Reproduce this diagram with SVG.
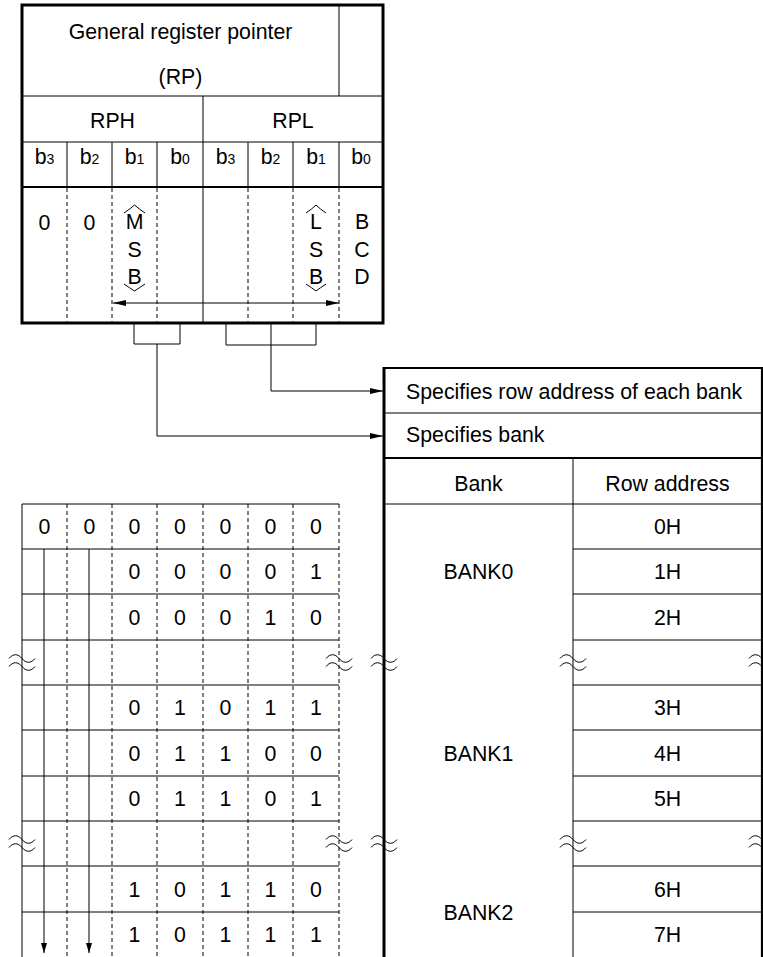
<svg xmlns="http://www.w3.org/2000/svg" width="763" height="957" viewBox="0 0 763 957">
<style>
text{font-family:"Liberation Sans",Arial,sans-serif;font-size:21.3px;fill:#000}
.m{text-anchor:middle}
.s{font-size:14px}
.thin{stroke:#000;stroke-width:1;fill:none}
.thick{stroke:#000;stroke-width:3;fill:none}
.mid{stroke:#000;stroke-width:2.2;fill:none}
.dash{stroke:#000;stroke-width:1;stroke-dasharray:4 3;fill:none}
.wave{stroke:#000;stroke-width:1;fill:none}
</style>
<defs>
<marker id="ah" viewBox="0 0 13 6" refX="13" refY="3" markerWidth="13" markerHeight="6" markerUnits="userSpaceOnUse" orient="auto-start-reverse">
<path d="M0,0 L13,3 L0,6 Z" fill="#000"/>
</marker>
<marker id="ahd" viewBox="0 0 6 10" refX="3" refY="10" markerWidth="6" markerHeight="10" markerUnits="userSpaceOnUse" orient="0">
<path d="M0,0 L6,0 L3,10 Z" fill="#000"/>
</marker>
<path id="wv" d="M-13,-4 c4,-5 9,-5 13,0 s9,5 13,0 M-13,4 c4,-5 9,-5 13,0 s9,5 13,0"/>
</defs>

<g id="register">
<rect x="22" y="5" width="361" height="318" class="thick"/>
<line x1="339" y1="5" x2="339" y2="96" class="thin"/>
<line x1="22" y1="96" x2="383" y2="96" class="thin"/>
<line x1="203" y1="96" x2="203" y2="323" class="thin"/>
<line x1="22" y1="142" x2="383" y2="142" class="thin"/>
<path d="M67,142V187M112,142V187M157,142V187M248,142V187M293,142V187M339,142V187" class="thin"/>
<line x1="22" y1="187" x2="383" y2="187" class="mid"/>
<path d="M67,188V322M112,188V322M157,188V322M248,188V322M293,188V322M339,188V322" class="dash"/>
<text x="180.5" y="39" class="m">General register pointer</text>
<text x="180.5" y="84" class="m">(RP)</text>
<text x="112.5" y="128" class="m">RPH</text>
<text x="293" y="128" class="m">RPL</text>
<text x="44.5" y="164" class="m">b<tspan class="s">3</tspan></text>
<text x="89.5" y="164" class="m">b<tspan class="s">2</tspan></text>
<text x="134.5" y="164" class="m">b<tspan class="s">1</tspan></text>
<text x="180" y="164" class="m">b<tspan class="s">0</tspan></text>
<text x="225.5" y="164" class="m">b<tspan class="s">3</tspan></text>
<text x="270.5" y="164" class="m">b<tspan class="s">2</tspan></text>
<text x="316" y="164" class="m">b<tspan class="s">1</tspan></text>
<text x="361" y="164" class="m">b<tspan class="s">0</tspan></text>
<text x="44.5" y="230" class="m">0</text>
<text x="89.5" y="230" class="m">0</text>
<text x="134.5" y="229" class="m">M</text>
<text x="134.5" y="257" class="m">S</text>
<text x="134.5" y="284" class="m">B</text>
<text x="316" y="229" class="m">L</text>
<text x="316" y="257" class="m">S</text>
<text x="316" y="284" class="m">B</text>
<text x="362" y="229" class="m">B</text>
<text x="362" y="257" class="m">C</text>
<text x="362" y="284" class="m">D</text>
<path d="M124,213 Q130,209 134.5,205 Q139,209 145,213" class="thin"/>
<path d="M124,284 Q130,288 134.5,291 Q139,288 145,284" class="thin"/>
<path d="M306,213 Q312,209 316,205 Q320,209 326,213" class="thin"/>
<path d="M306,284 Q312,288 316,291 Q320,288 326,284" class="thin"/>
<line x1="113" y1="303" x2="339" y2="303" class="thin" marker-start="url(#ah)" marker-end="url(#ah)"/>
</g>

<g id="connectors">
<path d="M134,323V344H180V323" class="thin"/>
<path d="M226,323V345H316V323" class="thin"/>
<path d="M157,344V436H383" class="thin" marker-end="url(#ah)"/>
<path d="M271,323V391H383" class="thin" marker-end="url(#ah)"/>
</g>

<g id="bank-table">
<path d="M384,368H762V957" class="mid"/>
<line x1="384" y1="367" x2="384" y2="957" class="thick"/>
<line x1="384" y1="413" x2="762" y2="413" class="thin"/>
<line x1="384" y1="458" x2="762" y2="458" class="mid"/>
<line x1="384" y1="504" x2="762" y2="504" class="thin"/>
<line x1="573" y1="458" x2="573" y2="957" class="thin"/>
<path d="M573,549H762M573,594H762M573,640H762M573,685H762M573,730H762M573,776H762M573,821H762M573,866H762M573,912H762" class="thin"/>
<text x="406" y="399">Specifies row address of each bank</text>
<text x="406" y="442">Specifies bank</text>
<text x="478.5" y="491" class="m">Bank</text>
<text x="667.5" y="491" class="m">Row address</text>
<text x="667.5" y="534" class="m">0H</text>
<text x="667.5" y="579" class="m">1H</text>
<text x="667.5" y="624.5" class="m">2H</text>
<text x="667.5" y="715" class="m">3H</text>
<text x="667.5" y="760.5" class="m">4H</text>
<text x="667.5" y="806" class="m">5H</text>
<text x="667.5" y="896.5" class="m">6H</text>
<text x="667.5" y="942" class="m">7H</text>
<text x="478.5" y="579" class="m">BANK0</text>
<text x="478.5" y="760.5" class="m">BANK1</text>
<text x="478.5" y="919.5" class="m">BANK2</text>
</g>

<g id="bit-table">
<line x1="22" y1="504" x2="22" y2="957" class="thin"/>
<path d="M22,504H339M22,549H339M22,594H339M22,640H339M22,685H339M22,730H339M22,776H339M22,821H339M22,866H339M22,912H339" class="thin"/>
<path d="M67,504V957M112,504V957M157,504V957M203,504V957M248,504V957M293,504V957M339,504V957" class="dash"/>
<line x1="44" y1="549" x2="44" y2="953" class="thin" marker-end="url(#ahd)"/>
<line x1="89" y1="549" x2="89" y2="953" class="thin" marker-end="url(#ahd)"/>
<text x="44.5" y="534" class="m">0</text>
<text x="89.5" y="534" class="m">0</text>
<text x="134.5" y="534" class="m">0</text>
<text x="180" y="534" class="m">0</text>
<text x="225.5" y="534" class="m">0</text>
<text x="270.5" y="534" class="m">0</text>
<text x="316" y="534" class="m">0</text>
<text x="134.5" y="579" class="m">0</text>
<text x="180" y="579" class="m">0</text>
<text x="225.5" y="579" class="m">0</text>
<text x="270.5" y="579" class="m">0</text>
<text x="316" y="579" class="m">1</text>
<text x="134.5" y="624.5" class="m">0</text>
<text x="180" y="624.5" class="m">0</text>
<text x="225.5" y="624.5" class="m">0</text>
<text x="270.5" y="624.5" class="m">1</text>
<text x="316" y="624.5" class="m">0</text>
<text x="134.5" y="715" class="m">0</text>
<text x="180" y="715" class="m">1</text>
<text x="225.5" y="715" class="m">0</text>
<text x="270.5" y="715" class="m">1</text>
<text x="316" y="715" class="m">1</text>
<text x="134.5" y="760.5" class="m">0</text>
<text x="180" y="760.5" class="m">1</text>
<text x="225.5" y="760.5" class="m">1</text>
<text x="270.5" y="760.5" class="m">0</text>
<text x="316" y="760.5" class="m">0</text>
<text x="134.5" y="806" class="m">0</text>
<text x="180" y="806" class="m">1</text>
<text x="225.5" y="806" class="m">1</text>
<text x="270.5" y="806" class="m">0</text>
<text x="316" y="806" class="m">1</text>
<text x="134.5" y="896.5" class="m">1</text>
<text x="180" y="896.5" class="m">0</text>
<text x="225.5" y="896.5" class="m">1</text>
<text x="270.5" y="896.5" class="m">1</text>
<text x="316" y="896.5" class="m">0</text>
<text x="134.5" y="942" class="m">1</text>
<text x="180" y="942" class="m">0</text>
<text x="225.5" y="942" class="m">1</text>
<text x="270.5" y="942" class="m">1</text>
<text x="316" y="942" class="m">1</text>
</g>

<g id="breaks">
<use href="#wv" x="22" y="662.5" class="wave"/>
<use href="#wv" x="339" y="662.5" class="wave"/>
<use href="#wv" x="384" y="662.5" class="wave"/>
<use href="#wv" x="573" y="662.5" class="wave"/>
<use href="#wv" x="762" y="662.5" class="wave"/>
<use href="#wv" x="22" y="843.5" class="wave"/>
<use href="#wv" x="339" y="843.5" class="wave"/>
<use href="#wv" x="384" y="843.5" class="wave"/>
<use href="#wv" x="573" y="843.5" class="wave"/>
<use href="#wv" x="762" y="843.5" class="wave"/>
</g>
</svg>
